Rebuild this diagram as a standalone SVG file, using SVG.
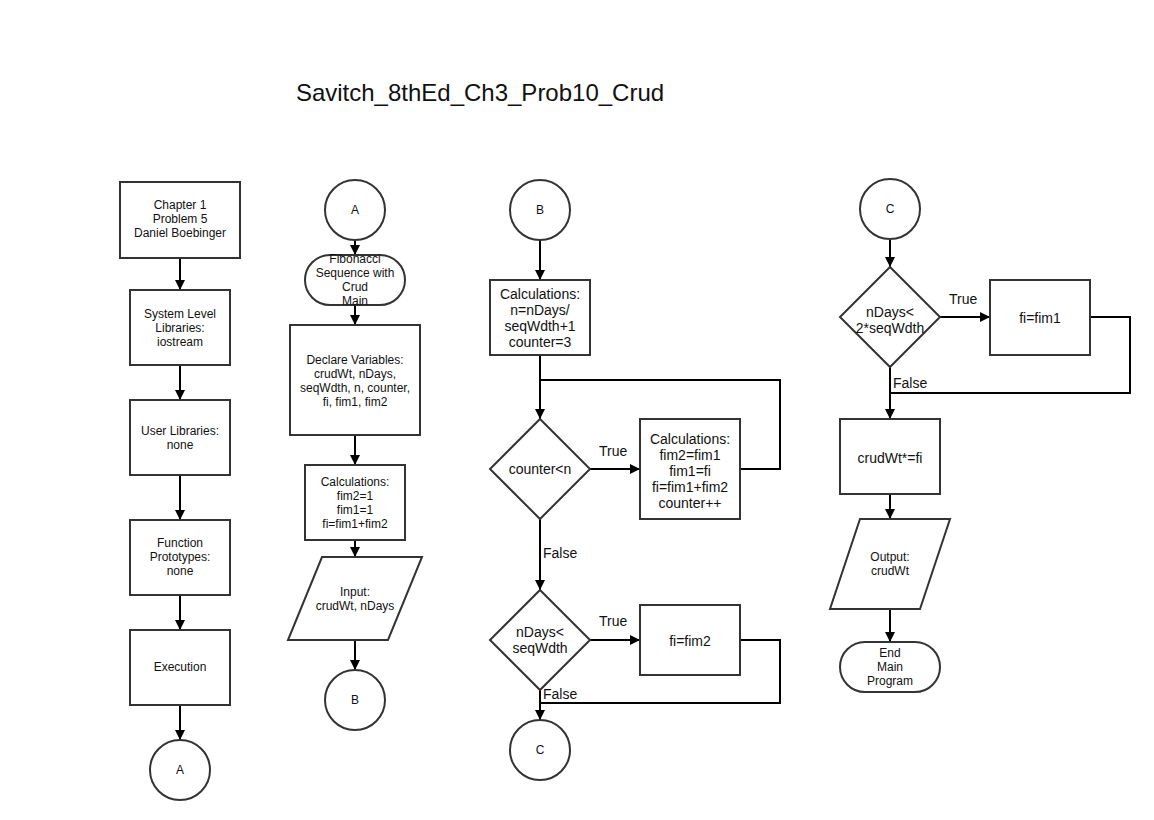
<svg xmlns="http://www.w3.org/2000/svg" width="1154" height="820" viewBox="0 0 1154 820">
<style>
.s{fill:#fff;stroke:#333;stroke-width:2}
.c{fill:none;stroke:#000;stroke-width:2}
text{font-family:"Liberation Sans",Arial,sans-serif;fill:#111;text-anchor:middle}
.t12{font-size:12px}
.t14{font-size:14px}
.lbl{font-size:14px;text-anchor:start}
</style>
<defs>
<marker id="ah" markerUnits="userSpaceOnUse" markerWidth="10" markerHeight="10" refX="10" refY="5" orient="auto">
<path d="M0,0 L10,5 L0,10 z" fill="#000"/>
</marker>
</defs>
<rect width="1154" height="820" fill="#fff"/>
<text x="480" y="101" style="font-size:24px">Savitch_8thEd_Ch3_Prob10_Crud</text>

<g id="connectors">
<line class="c" x1="180" y1="258" x2="180" y2="290" marker-end="url(#ah)"/>
<line class="c" x1="180" y1="365" x2="180" y2="400" marker-end="url(#ah)"/>
<line class="c" x1="180" y1="475" x2="180" y2="520" marker-end="url(#ah)"/>
<line class="c" x1="180" y1="595" x2="180" y2="630" marker-end="url(#ah)"/>
<line class="c" x1="180" y1="705" x2="180" y2="740" marker-end="url(#ah)"/>

<line class="c" x1="355" y1="240" x2="355" y2="255" marker-end="url(#ah)"/>
<line class="c" x1="355" y1="305" x2="355" y2="325" marker-end="url(#ah)"/>
<line class="c" x1="355" y1="435" x2="355" y2="465" marker-end="url(#ah)"/>
<line class="c" x1="355" y1="540" x2="355" y2="557" marker-end="url(#ah)"/>
<line class="c" x1="355" y1="640" x2="355" y2="670" marker-end="url(#ah)"/>

<line class="c" x1="540" y1="240" x2="540" y2="280" marker-end="url(#ah)"/>
<line class="c" x1="540" y1="355" x2="540" y2="419" marker-end="url(#ah)"/>
<polyline class="c" points="740,469 780,469 780,380 540,380"/>
<line class="c" x1="590" y1="469" x2="640" y2="469" marker-end="url(#ah)"/>
<line class="c" x1="540" y1="519" x2="540" y2="590" marker-end="url(#ah)"/>
<line class="c" x1="590" y1="640" x2="640" y2="640" marker-end="url(#ah)"/>
<polyline class="c" points="740,640 780,640 780,703 540,703"/>
<line class="c" x1="540" y1="690" x2="540" y2="720" marker-end="url(#ah)"/>

<line class="c" x1="890" y1="240" x2="890" y2="267" marker-end="url(#ah)"/>
<line class="c" x1="940" y1="317" x2="990" y2="317" marker-end="url(#ah)"/>
<polyline class="c" points="1090,317 1130,317 1130,393 890,393"/>
<line class="c" x1="890" y1="367" x2="890" y2="419" marker-end="url(#ah)"/>
<line class="c" x1="890" y1="494" x2="890" y2="519" marker-end="url(#ah)"/>
<line class="c" x1="890" y1="609" x2="890" y2="642" marker-end="url(#ah)"/>

<text class="lbl" x="599" y="456">True</text>
<text class="lbl" x="543" y="558">False</text>
<text class="lbl" x="599" y="626">True</text>
<text class="lbl" x="543" y="699">False</text>
<text class="lbl" x="949" y="304">True</text>
<text class="lbl" x="893" y="388">False</text>
</g>

<g id="n_header">
<rect class="s" x="120" y="182" width="120" height="76"/>
<text class="t12" x="180" y="209">Chapter 1</text>
<text class="t12" x="180" y="223">Problem 5</text>
<text class="t12" x="180" y="237">Daniel Boebinger</text>
</g>
<g id="n_syslib">
<rect class="s" x="130" y="290" width="100" height="75"/>
<text class="t12" x="180" y="318">System Level</text>
<text class="t12" x="180" y="332">Libraries:</text>
<text class="t12" x="180" y="346">iostream</text>
</g>
<g id="n_userlib">
<rect class="s" x="130" y="400" width="100" height="75"/>
<text class="t12" x="180" y="435">User Libraries:</text>
<text class="t12" x="180" y="449">none</text>
</g>
<g id="n_proto">
<rect class="s" x="130" y="520" width="100" height="75"/>
<text class="t12" x="180" y="547">Function</text>
<text class="t12" x="180" y="561">Prototypes:</text>
<text class="t12" x="180" y="575">none</text>
</g>
<g id="n_exec">
<rect class="s" x="130" y="630" width="100" height="75"/>
<text class="t12" x="180" y="671">Execution</text>
</g>
<g id="n_A1">
<circle class="s" cx="180" cy="770" r="30"/>
<text class="t12" x="180" y="774">A</text>
</g>

<g id="n_A2">
<circle class="s" cx="355" cy="210" r="30"/>
<text class="t12" x="355" y="214">A</text>
</g>
<g id="n_start">
<rect class="s" x="305" y="255" width="100" height="50" rx="25" ry="25"/>
<text class="t12" x="355" y="263">Fibonacci</text>
<text class="t12" x="355" y="277">Sequence with</text>
<text class="t12" x="355" y="291">Crud</text>
<text class="t12" x="355" y="305">Main</text>
</g>
<g id="n_declare">
<rect class="s" x="290" y="325" width="130" height="110"/>
<text class="t12" x="355" y="364">Declare Variables:</text>
<text class="t12" x="355" y="378">crudWt, nDays,</text>
<text class="t12" x="355" y="392">seqWdth, n, counter,</text>
<text class="t12" x="355" y="406">fi, fim1, fim2</text>
</g>
<g id="n_calc1">
<rect class="s" x="305" y="465" width="100" height="75"/>
<text class="t12" x="355" y="486">Calculations:</text>
<text class="t12" x="355" y="500">fim2=1</text>
<text class="t12" x="355" y="514">fim1=1</text>
<text class="t12" x="355" y="528">fi=fim1+fim2</text>
</g>
<g id="n_input">
<polygon class="s" points="322,557 422,557 388,640 288,640"/>
<text class="t12" x="355" y="596">Input:</text>
<text class="t12" x="355" y="610">crudWt, nDays</text>
</g>
<g id="n_B1">
<circle class="s" cx="355" cy="700" r="30"/>
<text class="t12" x="355" y="704">B</text>
</g>

<g id="n_B2">
<circle class="s" cx="540" cy="210" r="30"/>
<text class="t12" x="540" y="214">B</text>
</g>
<g id="n_calc2">
<rect class="s" x="490" y="280" width="100" height="75"/>
<text class="t14" x="540" y="299">Calculations:</text>
<text class="t14" x="540" y="315">n=nDays/</text>
<text class="t14" x="540" y="331">seqWdth+1</text>
<text class="t14" x="540" y="347">counter=3</text>
</g>
<g id="n_loop">
<polygon class="s" points="540,419 590,469 540,519 490,469"/>
<text class="t14" x="540" y="474">counter&lt;n</text>
</g>
<g id="n_calc3">
<rect class="s" x="640" y="419" width="100" height="100"/>
<text class="t14" x="690" y="444">Calculations:</text>
<text class="t14" x="690" y="460">fim2=fim1</text>
<text class="t14" x="690" y="476">fim1=fi</text>
<text class="t14" x="690" y="492">fi=fim1+fim2</text>
<text class="t14" x="690" y="508">counter++</text>
</g>
<g id="n_dec2">
<polygon class="s" points="540,590 590,640 540,690 490,640"/>
<text class="t14" x="540" y="637">nDays&lt;</text>
<text class="t14" x="540" y="653">seqWdth</text>
</g>
<g id="n_fim2">
<rect class="s" x="640" y="605" width="100" height="70"/>
<text class="t14" x="690" y="646">fi=fim2</text>
</g>
<g id="n_C1">
<circle class="s" cx="540" cy="750" r="30"/>
<text class="t12" x="540" y="754">C</text>
</g>

<g id="n_C2">
<circle class="s" cx="890" cy="209" r="30"/>
<text class="t12" x="890" y="213">C</text>
</g>
<g id="n_dec3">
<polygon class="s" points="890,267 940,317 890,367 840,317"/>
<text class="t14" x="890" y="317">nDays&lt;</text>
<text class="t14" x="890" y="333">2*seqWdth</text>
</g>
<g id="n_fim1">
<rect class="s" x="990" y="280" width="100" height="75"/>
<text class="t14" x="1040" y="323">fi=fim1</text>
</g>
<g id="n_mult">
<rect class="s" x="840" y="419" width="100" height="75"/>
<text class="t14" x="890" y="463">crudWt*=fi</text>
</g>
<g id="n_output">
<polygon class="s" points="860,519 950,519 920,609 830,609"/>
<text class="t12" x="890" y="561">Output:</text>
<text class="t12" x="890" y="575">crudWt</text>
</g>
<g id="n_end">
<rect class="s" x="840" y="642" width="100" height="50" rx="25" ry="25"/>
<text class="t12" x="890" y="657">End</text>
<text class="t12" x="890" y="671">Main</text>
<text class="t12" x="890" y="685">Program</text>
</g>
</svg>
